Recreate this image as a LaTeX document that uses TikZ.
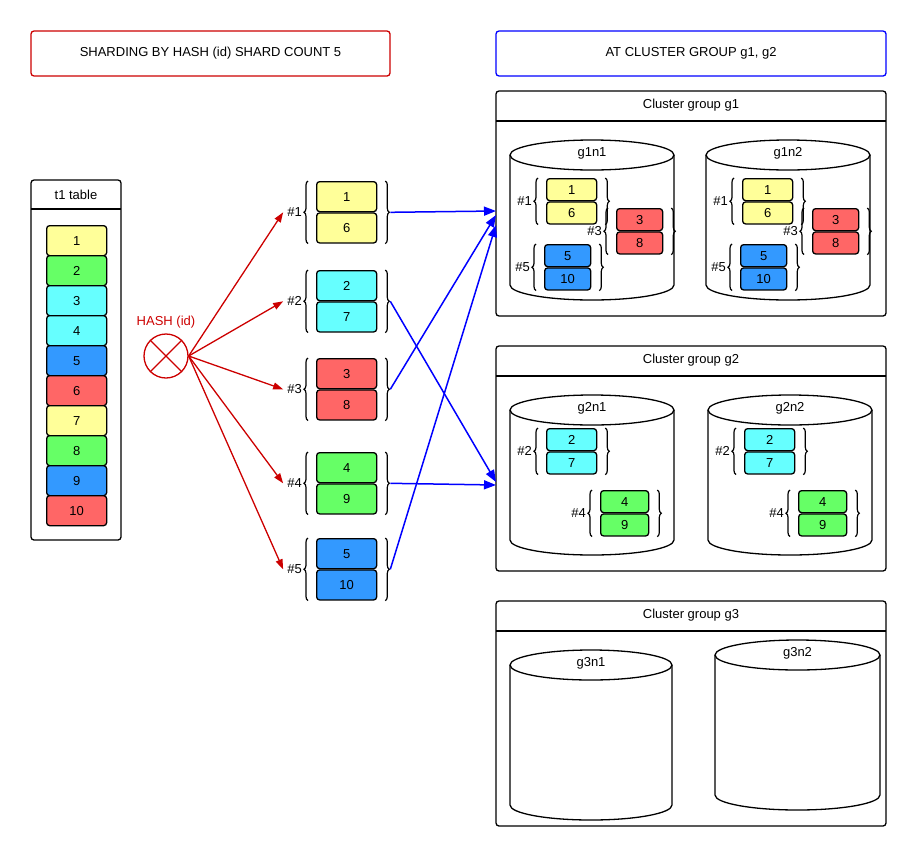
\documentclass[tikz,border=0pt]{standalone}
\usepackage{fontspec}
\setmainfont{Liberation Sans}
\usetikzlibrary{calc}
\usetikzlibrary{positioning}
\usetikzlibrary{arrows.meta}
\usetikzlibrary{decorations.pathreplacing}
\definecolor{cyel}{HTML}{FFFF99}
\definecolor{cgrn}{HTML}{66FF66}
\definecolor{ccyn}{HTML}{66FFFF}
\definecolor{cblu}{HTML}{3399FF}
\definecolor{cred}{HTML}{FF6666}
\definecolor{hred}{HTML}{CC0000}
\tikzset{
  cell/.style={draw,line width=1.3pt,rounded corners=3pt,inner sep=0pt,font=\fontsize{13}{15}\selectfont},
  brc/.style={line width=1.2pt,decorate,decoration={brace,amplitude=4pt}},
  frame/.style={draw,rounded corners=3pt,line width=1.3pt},
  txt/.style={font=\fontsize{13}{15}\selectfont},
  redarr/.style={hred,line width=1.3pt,-{Triangle[length=10pt,width=7pt]}},
  bluarr/.style={blue,line width=1.5pt,-{Triangle[length=12pt,width=9pt]}}
}
% name, x, y, w, h, colour, first, second, label
\newcommand\shardpair[9]{%
  \node[cell,fill=#6,minimum width=#4pt,minimum height=#5pt,anchor=north west] (#1a) at (#2,#3) {#7};
  \node[cell,fill=#6,minimum width=#4pt,minimum height=#5pt,anchor=north] (#1b) at (#1a.south) {#8};
  \draw[brc] ([xshift=-8pt]#1b.south west) -- ([xshift=-8pt]#1a.north west);
  \draw[brc] ([xshift=8pt]#1a.north east) -- ([xshift=8pt]#1b.south east);
  \coordinate (#1l) at ([xshift=-13pt]#1a.south west);
  \coordinate (#1r) at ([xshift=13pt]#1a.south east);
  \node[txt,anchor=east,inner sep=1pt] (#1t) at (#1l) {#9};
}
% name, x, ytop, w, ybot, label
\newcommand\cyl[6]{%
  \draw[line width=1.3pt] (#2+#4/2,#3) ellipse [x radius=#4/2,y radius=15];
  \draw[line width=1.3pt] (#2,#3) -- (#2,#5) arc[start angle=180,end angle=0,x radius=#4/2,y radius=15] -- (#2+#4,#3);
  \node[txt] (#1) at (#2+#4/2,#3-2) {#6};
}
\begin{document}
\begin{tikzpicture}[x=1pt,y=-1pt]
\useasboundingbox (0,0) rectangle (918,857);
%titles
\draw[frame,hred] (31,31) rectangle (390,76);
\node[txt] (ttl1) at (210.5,53.5) {SHARDING BY HASH (id) SHARD COUNT 5};
\draw[frame,blue] (496,31) rectangle (886,76);
\node[txt] (ttl2) at (691,53.5) {AT CLUSTER GROUP g1, g2};
%t1 table
\draw[frame] (31,180) rectangle (121,540);
\draw[line width=1.3pt] (31,209) -- (121,209);
\node[txt] (tbl) at (76,194.5) {t1 table};
\foreach \v/\c [count=\i from 0] in {1/cyel,2/cgrn,3/ccyn,4/ccyn,5/cblu,6/cred,7/cyel,8/cgrn,9/cblu,10/cred}
  \node[cell,fill=\c,minimum width=60pt,minimum height=30pt,anchor=north west] (row\v) at (46,225+30*\i) {\v};
%hash
\node[draw=hred,line width=1.3pt,circle,minimum size=44pt,inner sep=0pt] (hash) at (166,356) {};
\draw[hred,line width=1.3pt] (hash.north west) -- (hash.south east);
\draw[hred,line width=1.3pt] (hash.north east) -- (hash.south west);
\node[txt,text=hred] (hashl) at (166,322) {HASH (id)};
%shards
\shardpair{s1}{316}{181}{60}{30}{cyel}{1}{6}{\#1}
\shardpair{s2}{316}{270}{60}{30}{ccyn}{2}{7}{\#2}
\shardpair{s3}{316}{358}{60}{30}{cred}{3}{8}{\#3}
\shardpair{s4}{316}{452}{60}{30}{cgrn}{4}{9}{\#4}
\shardpair{s5}{316}{538}{60}{30}{cblu}{5}{10}{\#5}
\foreach \s in {s1,s2,s3,s4,s5}
  \draw[redarr] (hash.east) -- ([xshift=-3pt]\s t.west);
%cluster groups
\foreach \g/\y in {1/91,2/346,3/601}{
  \draw[frame] (496,\y) rectangle (886,\y+225);
  \draw[line width=1.3pt] (496,\y+30) -- (886,\y+30);
  \node[txt] (grp\g) at (691,\y+14) {Cluster group g\g};
}
\coordinate (g1a) at (496,211);
\coordinate (g1b) at (496,215);
\coordinate (g1c) at (496,225);
\coordinate (g2a) at (496,482);
\coordinate (g2b) at (496,485);
\draw[bluarr] (s1r) -- (g1a);
\draw[bluarr] (s2r) -- (g2a);
\draw[bluarr] (s3r) -- (g1b);
\draw[bluarr] (s4r) -- (g2b);
\draw[bluarr] (s5r) -- (g1c);
%nodes of g1
\cyl{g1n1}{510}{155}{164}{285}{g1n1}
\cyl{g1n2}{706}{155}{164}{285}{g1n2}
\foreach \n/\d in {a/0,b/196}{
  \shardpair{p1\n}{546+\d}{178}{50}{22}{cyel}{1}{6}{\#1}
  \shardpair{p3\n}{616+\d}{208}{46}{22}{cred}{3}{8}{\#3}
  \shardpair{p5\n}{544+\d}{244}{46}{22}{cblu}{5}{10}{\#5}
}
%nodes of g2
\cyl{g2n1}{510}{410}{164}{540}{g2n1}
\cyl{g2n2}{708}{410}{164}{540}{g2n2}
\foreach \n/\d in {a/0,b/198}{
  \shardpair{p2\n}{546+\d}{428}{50}{22}{ccyn}{2}{7}{\#2}
  \shardpair{p4\n}{600+\d}{490}{48}{22}{cgrn}{4}{9}{\#4}
}
%nodes of g3
\cyl{g3n1}{510}{665}{162}{805}{g3n1}
\cyl{g3n2}{715}{655}{165}{795}{g3n2}
\end{tikzpicture}
\end{document}
